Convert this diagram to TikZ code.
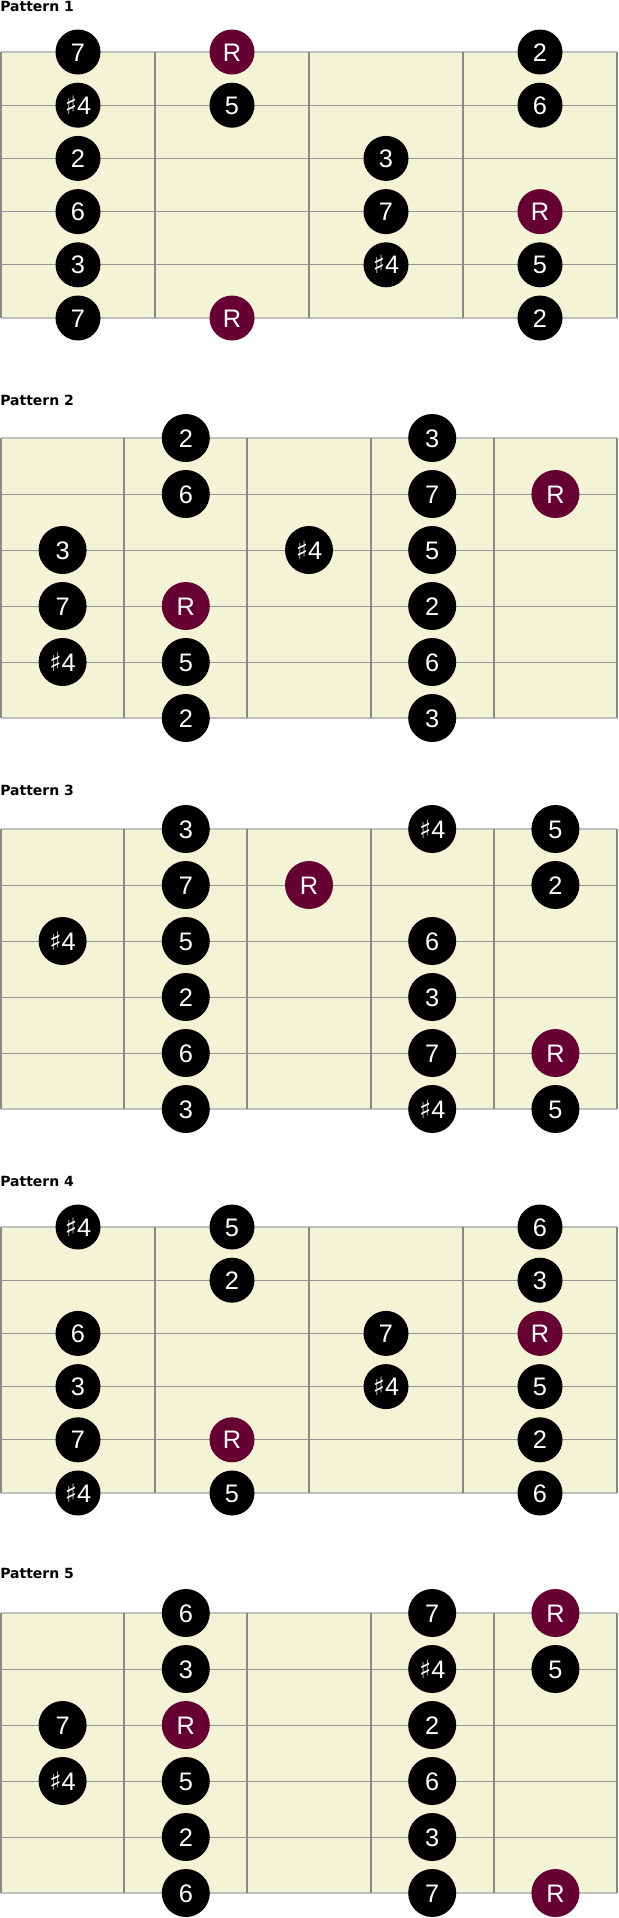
\documentclass[tikz,border=0pt]{standalone}
\usepackage{fontspec}
\setmainfont{Liberation Sans}
\newfontfamily\titlefont{DejaVu Sans}
\newfontfamily\symfont{DejaVu Sans}

\definecolor{boardbg}{RGB}{243,244,214}
\definecolor{rootred}{RGB}{102,0,51}
\definecolor{fretgray}{RGB}{138,138,138}
\definecolor{stringgray}{RGB}{150,150,150}
\definecolor{edgegray}{RGB}{192,192,192}

\newcommand{\shp}{{\symfont ♯}4}

\tikzset{
  board/.style={fill=boardbg},
  edge/.style={draw=edgegray,line width=1.5pt},
  fret/.style={draw=fretgray,line width=1.5pt},
  wire/.style={draw=stringgray,line width=0.75pt},
  note/.style={circle,fill=black,text=white,inner sep=0pt,minimum size=#1,
    text height=13.6pt,text depth=0pt,font=\fontsize{19}{19}\selectfont},
  note/.default=33.75pt,
  root/.style={note=#1,fill=rootred},
  root/.default=33.75pt,
  ptitle/.style={anchor=base west,inner sep=0pt,
    font=\titlefont\bfseries\fontsize{10.5}{12}\selectfont},
}

% board: top, number of cells, string gap
\newcommand{\fretboard}[3]{%
  \pgfmathsetmacro{\fw}{616/#2}
  \fill[board] (1,#1) rectangle (617,#1+5*#3);
  \foreach \s in {1,...,4}
    \draw[wire] (1,#1+\s*#3) -- (617,#1+\s*#3);
  \draw[edge] (1,#1) -- (617,#1);
  \draw[edge] (1,#1+5*#3) -- (617,#1+5*#3);
  \foreach \f in {0,...,#2}
    \draw[fret] (1+\f*\fw,#1) -- (1+\f*\fw,#1+5*#3);
}

\begin{document}
\begin{tikzpicture}[x=0.75pt,y=-0.75pt]
  \useasboundingbox (0,0) rectangle (618,1918);

  % ================= Pattern 1 =================
  \begin{scope}
    \def\bt{52}\def\gap{53.2}\def\cw{154}\def\ns{33.75pt}
    \node[ptitle] (t1) at (0,11) {Pattern 1};
    \fretboard{\bt}{4}{\gap}
    \foreach \c/\s/\lbl in {1/0/7,1/1/\shp,1/2/2,1/3/6,1/4/3,1/5/7,
                            2/1/5,3/2/3,3/3/7,3/4/\shp,
                            4/0/2,4/1/6,4/4/5,4/5/2}
      \node[note=\ns] (p1-\c-\s) at ({1+(\c-0.5)*\cw},{\bt+\s*\gap}) {\lbl};
    \foreach \c/\s in {2/0,2/5,4/3}
      \node[root=\ns] (p1-\c-\s) at ({1+(\c-0.5)*\cw},{\bt+\s*\gap}) {R};
  \end{scope}

  % ================= Pattern 2 =================
  \begin{scope}
    \def\bt{438}\def\gap{56}\def\cw{123.2}\def\ns{36pt}
    \node[ptitle] (t2) at (0,405) {Pattern 2};
    \fretboard{\bt}{5}{\gap}
    \foreach \c/\s/\lbl in {1/2/3,1/3/7,1/4/\shp,
                            2/0/2,2/1/6,2/4/5,2/5/2,3/2/\shp,
                            4/0/3,4/1/7,4/2/5,4/3/2,4/4/6,4/5/3}
      \node[note=\ns] (p2-\c-\s) at ({1+(\c-0.5)*\cw},{\bt+\s*\gap}) {\lbl};
    \foreach \c/\s in {2/3,5/1}
      \node[root=\ns] (p2-\c-\s) at ({1+(\c-0.5)*\cw},{\bt+\s*\gap}) {R};
  \end{scope}

  % ================= Pattern 3 =================
  \begin{scope}
    \def\bt{829}\def\gap{56}\def\cw{123.2}\def\ns{36pt}
    \node[ptitle] (t3) at (0,795) {Pattern 3};
    \fretboard{\bt}{5}{\gap}
    \foreach \c/\s/\lbl in {1/2/\shp,
                            2/0/3,2/1/7,2/2/5,2/3/2,2/4/6,2/5/3,
                            4/0/\shp,4/2/6,4/3/3,4/4/7,4/5/\shp,
                            5/0/5,5/1/2,5/5/5}
      \node[note=\ns] (p3-\c-\s) at ({1+(\c-0.5)*\cw},{\bt+\s*\gap}) {\lbl};
    \foreach \c/\s in {3/1,5/4}
      \node[root=\ns] (p3-\c-\s) at ({1+(\c-0.5)*\cw},{\bt+\s*\gap}) {R};
  \end{scope}

  % ================= Pattern 4 =================
  \begin{scope}
    \def\bt{1227}\def\gap{53.2}\def\cw{154}\def\ns{33.75pt}
    \node[ptitle] (t4) at (0,1186) {Pattern 4};
    \fretboard{\bt}{4}{\gap}
    \foreach \c/\s/\lbl in {1/0/\shp,1/2/6,1/3/3,1/4/7,1/5/\shp,
                            2/0/5,2/1/2,2/5/5,3/2/7,3/3/\shp,
                            4/0/6,4/1/3,4/3/5,4/4/2,4/5/6}
      \node[note=\ns] (p4-\c-\s) at ({1+(\c-0.5)*\cw},{\bt+\s*\gap}) {\lbl};
    \foreach \c/\s in {2/4,4/2}
      \node[root=\ns] (p4-\c-\s) at ({1+(\c-0.5)*\cw},{\bt+\s*\gap}) {R};
  \end{scope}

  % ================= Pattern 5 =================
  \begin{scope}
    \def\bt{1613}\def\gap{56}\def\cw{123.2}\def\ns{36pt}
    \node[ptitle] (t5) at (0,1578) {Pattern 5};
    \fretboard{\bt}{5}{\gap}
    \foreach \c/\s/\lbl in {1/2/7,1/3/\shp,
                            2/0/6,2/1/3,2/3/5,2/4/2,2/5/6,
                            4/0/7,4/1/\shp,4/2/2,4/3/6,4/4/3,4/5/7,
                            5/1/5}
      \node[note=\ns] (p5-\c-\s) at ({1+(\c-0.5)*\cw},{\bt+\s*\gap}) {\lbl};
    \foreach \c/\s in {2/2,5/0,5/5}
      \node[root=\ns] (p5-\c-\s) at ({1+(\c-0.5)*\cw},{\bt+\s*\gap}) {R};
  \end{scope}

\end{tikzpicture}
\end{document}
